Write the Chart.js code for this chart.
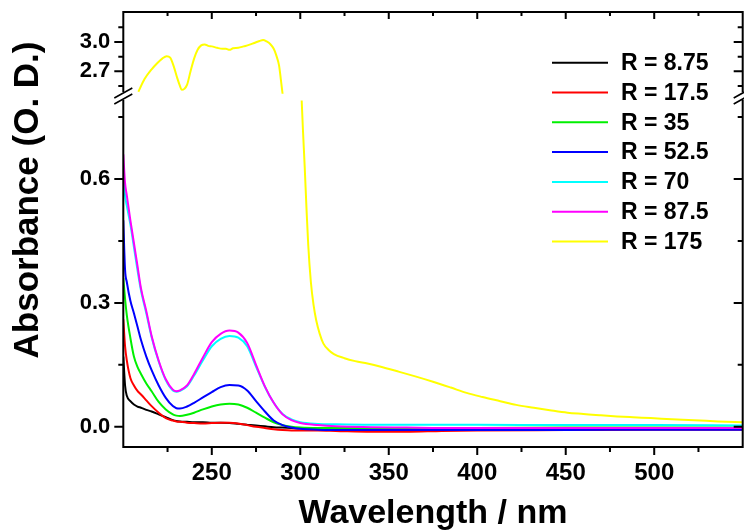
<!DOCTYPE html>
<html>
<head>
<meta charset="utf-8">
<script src="https://cdn.jsdelivr.net/npm/chart.js@4.4.1/dist/chart.umd.min.js"></script>
<style>
    html, body { margin: 0; padding: 0; background: #fff; }
    #local_grafico { width: 744px; height: 530px; }
</style>
</head>
<body>
<div id="local_grafico"><canvas id="espectro" width="744" height="530"></canvas></div>
<script>
const comprimentoOnda = [200, 201, 202, 204, 206, 208, 210, 213, 216, 220, 224, 228, 230, 232, 236, 240, 245, 250, 255, 260,
    265, 270, 275, 280, 285, 290, 295, 300, 310, 320, 340, 360, 380, 400, 450, 500, 550]

const absR875 = [0.17, 0.10, 0.075, 0.062, 0.054, 0.049, 0.046, 0.041, 0.037, 0.030, 0.023, 0.016, 0.014, 0.013, 0.012, 0.011, 0.011, 0.010, 0.010, 0.009,
    0.007, 0.005, 0.003, 0.001, -0.001, -0.002, -0.003, -0.004, -0.005, -0.005, -0.006, -0.006, -0.006, -0.005, -0.005, -0.005, -0.005]
const absR175 = [0.26, 0.195, 0.16, 0.118, 0.10, 0.087, 0.078, 0.064, 0.05, 0.034, 0.021, 0.015, 0.013, 0.012, 0.010, 0.009, 0.008, 0.009, 0.010, 0.010,
    0.008, 0.004, 0.0, -0.003, -0.006, -0.008, -0.009, -0.009, -0.009, -0.010, -0.012, -0.012, -0.010, -0.009, -0.008, -0.007, -0.007]
const absR35 = [0.36, 0.31, 0.27, 0.215, 0.17, 0.145, 0.128, 0.105, 0.086, 0.06, 0.042, 0.03, 0.027, 0.026, 0.029, 0.034, 0.042, 0.049, 0.054, 0.056,
    0.054, 0.046, 0.034, 0.022, 0.011, 0.004, 0.0, -0.002, -0.003, -0.003, -0.003, -0.003, -0.003, -0.003, -0.002, -0.002, -0.002]
const absR525 = [0.5, 0.38, 0.35, 0.305, 0.275, 0.243, 0.21, 0.17, 0.137, 0.1, 0.07, 0.05, 0.045, 0.044, 0.049, 0.058, 0.071, 0.084, 0.096, 0.101,
    0.100, 0.088, 0.062, 0.037, 0.015, 0.004, -0.002, -0.005, -0.007, -0.008, -0.008, -0.008, -0.008, -0.008, -0.008, -0.007, -0.007]
const absR70 = [0.62, 0.56, 0.535, 0.49, 0.435, 0.38, 0.33, 0.275, 0.217, 0.158, 0.113, 0.088, 0.085, 0.087, 0.098, 0.124, 0.161, 0.195, 0.213, 0.220,
    0.216, 0.195, 0.146, 0.097, 0.058, 0.031, 0.018, 0.011, 0.007, 0.006, 0.005, 0.005, 0.005, 0.005, 0.004, 0.004, 0.003]
const absR875b = [0.66, 0.59, 0.56, 0.50, 0.445, 0.39, 0.335, 0.28, 0.22, 0.16, 0.115, 0.09, 0.086, 0.088, 0.10, 0.128, 0.168, 0.205, 0.225, 0.233,
    0.228, 0.203, 0.150, 0.098, 0.058, 0.030, 0.016, 0.009, 0.004, 0.001, -0.001, -0.002, -0.003, -0.003, -0.003, -0.003, -0.003]

// R = 175 (amarelo) tem parte acima da quebra do eixo
const ondaR175Alto = [208.5, 212, 216, 219, 222, 224.5, 226.5, 228.5, 230.5, 232, 233, 234.5, 236, 238, 240, 242, 244, 246, 248, 250,
    253, 256, 258, 260, 262, 265, 268, 271, 274, 277, 279, 281, 283, 285, 286.5, 288, 289, 290]
const absR175Alto = [2.49, 2.62, 2.72, 2.78, 2.83, 2.855, 2.84, 2.75, 2.63, 2.55, 2.51, 2.52, 2.56, 2.70, 2.83, 2.92, 2.965, 2.975, 2.96, 2.955,
    2.94, 2.93, 2.93, 2.92, 2.935, 2.94, 2.955, 2.97, 2.99, 3.01, 3.02, 3.005, 2.98, 2.93, 2.86, 2.76, 2.62, 2.47]
const ondaR175Baixo = [300.8, 301.5, 302.5, 303.5, 304.5, 306, 307.5, 309, 311, 313, 316, 319, 325, 331, 338, 345, 356, 365, 375, 385,
    394, 403, 413, 422, 432, 441, 451, 460, 469, 479, 488, 498, 507, 516, 526, 536, 550]
const absR175Baixo = [0.79, 0.72, 0.63, 0.53, 0.44, 0.35, 0.295, 0.258, 0.225, 0.202, 0.186, 0.176, 0.166, 0.159, 0.153, 0.146, 0.133, 0.122, 0.109, 0.095,
    0.082, 0.072, 0.062, 0.053, 0.046, 0.04, 0.034, 0.031, 0.028, 0.025, 0.023, 0.021, 0.019, 0.017, 0.015, 0.013, 0.011]

const nomesSeries = ['R = 8.75', 'R = 17.5', 'R = 35', 'R = 52.5', 'R = 70', 'R = 87.5', 'R = 175']
const coresSeries = ['#000000', '#ff0000', '#00f000', '#0000ff', '#00ffff', '#ff00ff', '#ffff00']

// ticks
const xRotulos = [250, 300, 350, 400, 450, 500]
const xMenores = [225, 275, 325, 375, 425, 475, 525]
const yBaixoRotulos = [0.0, 0.3, 0.6]
const yBaixoMenores = [0.15, 0.45, 0.75]
const yAltoRotulos = [2.7, 3.0]
const yAltoMenores = [2.55, 2.85, 3.15]

const fonte = '"Liberation Sans", Arial, Helvetica, sans-serif'

function pontos(xs, ys) {
    return xs.map((x, i) => ({ x: x, y: ys[i] }))
}

const seriesBaixas = [absR875, absR175, absR35, absR525, absR70, absR875b]
const datasets = seriesBaixas.map((serie, i) => ({
    label: nomesSeries[i],
    data: pontos(comprimentoOnda, serie),
    borderColor: coresSeries[i],
    yAxisID: 'y',
    order: 6 - i
}))
datasets.push({
    label: nomesSeries[6],
    data: pontos(ondaR175Baixo, absR175Baixo),
    borderColor: coresSeries[6],
    yAxisID: 'y',
    order: 0
})
datasets.push({
    label: nomesSeries[6],
    data: pontos(ondaR175Alto, absR175Alto),
    borderColor: coresSeries[6],
    yAxisID: 'y2',
    order: 0
})

// moldura, ticks, quebra do eixo, títulos e legenda
const moldura = {
    id: 'moldura',
    afterDatasetsDraw(chart) {
        const ctx = chart.ctx
        const xs = chart.scales.x
        const yb = chart.scales.y
        const ya = chart.scales.y2
        const a = chart.chartArea
        const q = yb.top
        ctx.save()
        ctx.strokeStyle = '#000'
        ctx.lineWidth = 2
        ctx.beginPath()
        ctx.moveTo(a.left - 1, a.bottom); ctx.lineTo(a.right + 1, a.bottom)
        ctx.moveTo(a.left - 1, a.top); ctx.lineTo(a.right + 1, a.top)
        ctx.moveTo(a.left, a.bottom); ctx.lineTo(a.left, q + 4)
        ctx.moveTo(a.left, q - 4); ctx.lineTo(a.left, a.top)
        ctx.moveTo(a.right, a.bottom); ctx.lineTo(a.right, q + 4)
        ctx.moveTo(a.right, q - 4); ctx.lineTo(a.right, a.top)
        // ticks x
        xRotulos.forEach(v => {
            const p = xs.getPixelForValue(v)
            ctx.moveTo(p, a.bottom); ctx.lineTo(p, a.bottom + 8)
            ctx.moveTo(p, a.top); ctx.lineTo(p, a.top + 7)
        })
        xMenores.forEach(v => {
            const p = xs.getPixelForValue(v)
            ctx.moveTo(p, a.bottom); ctx.lineTo(p, a.bottom + 5)
            ctx.moveTo(p, a.top); ctx.lineTo(p, a.top + 4)
        })
        // ticks y
        const ticksY = (escala, lista, tam) => lista.forEach(v => {
            const p = escala.getPixelForValue(v)
            if (p < escala.top + 1 || p > escala.bottom - 1) return
            ctx.moveTo(a.left, p); ctx.lineTo(a.left - tam, p)
            ctx.moveTo(a.right, p); ctx.lineTo(a.right - tam, p)
        })
        ticksY(yb, yBaixoRotulos, 9)
        ticksY(yb, yBaixoMenores, 5)
        ticksY(ya, yAltoRotulos, 9)
        ticksY(ya, yAltoMenores, 5)
        ctx.stroke()
        // marcas de quebra
        ctx.lineWidth = 1.6
        ctx.beginPath();
        [a.left, a.right].forEach(x => {
            ctx.moveTo(x - 9, q + 8); ctx.lineTo(x + 9, q - 2)
            ctx.moveTo(x - 9, q + 2); ctx.lineTo(x + 9, q - 8)
        })
        ctx.stroke()

        // títulos dos eixos
        ctx.fillStyle = '#000'
        ctx.font = 'bold 34px ' + fonte
        ctx.textAlign = 'center'
        ctx.textBaseline = 'alphabetic'
        ctx.fillText('Wavelength / nm', (a.left + a.right) / 2, 523)
        ctx.save()
        ctx.font = 'bold 35px ' + fonte
        ctx.translate(28, 200)
        ctx.rotate(-Math.PI / 2)
        ctx.textBaseline = 'middle'
        ctx.fillText('Absorbance (O. D.)', 0, 0)
        ctx.restore()

        // legenda
        ctx.font = 'bold 23px ' + fonte
        ctx.textAlign = 'left'
        ctx.textBaseline = 'middle'
        nomesSeries.forEach((nome, i) => {
            const y = 62.7 + i * 29.8
            ctx.strokeStyle = coresSeries[i]
            ctx.lineWidth = 2
            ctx.beginPath()
            ctx.moveTo(552, y); ctx.lineTo(608, y)
            ctx.stroke()
            ctx.fillText(nome, 621, y + 1)
        })
        ctx.restore()
    }
}

const fonteTicksX = { family: fonte, size: 24, weight: 'bold' }
const fonteTicksY = { family: fonte, size: 22, weight: 'bold' }

// sem folga extra para os rótulos nas pontas
function semFolgaY(s) {
    s.width = 123.3
    s.paddingTop = 0
    s.paddingBottom = 0
}

new Chart(document.getElementById('espectro'), {
    type: 'line',
    data: { datasets: datasets },
    options: {
        responsive: false,
        animation: false,
        devicePixelRatio: 1,
        layout: { padding: { top: 12, right: 1.3, left: 0, bottom: 0 } },
        elements: {
            line: { borderWidth: 2, tension: 0.4, cubicInterpolationMode: 'monotone' },
            point: { radius: 0 }
        },
        plugins: { legend: { display: false }, tooltip: { enabled: false } },
        scales: {
            x: {
                type: 'linear', position: 'bottom', min: 200, max: 550,
                grid: { display: false, drawTicks: false },
                border: { display: false },
                afterBuildTicks: (s) => { s.ticks = xRotulos.map(v => ({ value: v })) },
                afterFit: (s) => { s.height = 83; s.paddingLeft = 0; s.paddingRight = 0 },
                ticks: { color: '#000', font: fonteTicksX, padding: 12, maxRotation: 0, autoSkip: false, callback: (v) => String(v) }
            },
            y: {
                type: 'linear', position: 'left', min: -0.049, max: 0.801,
                stack: 'abs', stackWeight: 351,
                grid: { display: false, drawTicks: false },
                border: { display: false },
                afterBuildTicks: (s) => { s.ticks = yBaixoRotulos.map(v => ({ value: v })) },
                afterFit: semFolgaY,
                ticks: { color: '#000', font: fonteTicksY, padding: 13, autoSkip: false, callback: (v) => v.toFixed(1) }
            },
            y2: {
                type: 'linear', position: 'left', min: 2.447, max: 3.307,
                stack: 'abs', stackWeight: 84,
                grid: { display: false, drawTicks: false },
                border: { display: false },
                afterBuildTicks: (s) => { s.ticks = yAltoRotulos.map(v => ({ value: v })) },
                afterFit: semFolgaY,
                ticks: { color: '#000', font: fonteTicksY, padding: 13, autoSkip: false, callback: (v) => v.toFixed(1) }
            }
        }
    },
    plugins: [moldura]
})
</script>
</body>
</html>
